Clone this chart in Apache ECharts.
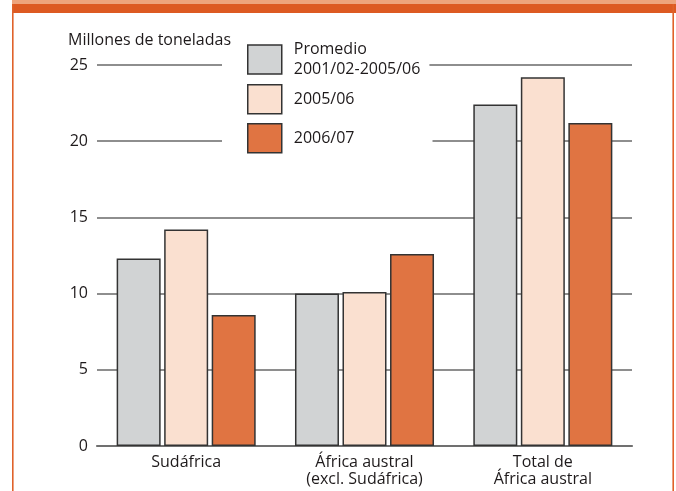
<!DOCTYPE html>
<html>
<head>
<meta charset="utf-8">
<script src="https://cdn.jsdelivr.net/npm/echarts@6/dist/echarts.min.js"></script>
<style>
html,body{margin:0;padding:0;background:#fff;}
#c{width:676px;height:491px;}
</style>
</head>
<body>
<div id="c"></div>
<script>
const categories = ['Sudáfrica', 'África austral\n(excl. Sudáfrica)', 'Total de\nÁfrica austral'];
const seriesNames = ['Promedio\n2001/02-2005/06', '2005/06', '2006/07'];
const promedio = [12.3, 10.0, 22.4];
const s2005 = [14.2, 10.1, 24.2];
const s2006 = [8.6, 12.6, 21.2];
const yTicks = [0, 5, 10, 15, 20, 25];

const colors = ['#d1d3d4', '#fae0d0', '#e07442'];
const font = '"Open Sans", "Noto Sans", sans-serif';
const txt = '#1e1a1b';
const fs = 16;

const chart = echarts.init(document.getElementById('c'), null, {renderer: 'canvas'});

function mkLegend(name, top, padding) {
  return {
    data: [name],
    left: 222,
    top: top,
    orient: 'vertical',
    itemWidth: 34,
    itemHeight: 29,
    padding: padding,
    backgroundColor: '#ffffff',
    selectedMode: false,
    icon: 'rect',
    itemStyle: {borderColor: '#333333', borderWidth: 1.5},
    textStyle: {fontFamily: font, fontSize: fs, color: txt, lineHeight: 20, padding: [0, 0, 0, 7]}
  };
}

const dataArrays = [promedio, s2005, s2006];

chart.setOption({
  animation: false,
  backgroundColor: '#ffffff',
  textStyle: {fontFamily: font},
  title: {
    text: 'Millones de toneladas',
    left: 68, top: 32, padding: 0,
    textStyle: {fontFamily: font, fontSize: fs, fontWeight: 'normal', color: txt}
  },
  graphic: [
    {type: 'rect', shape: {x: 12, y: 0, width: 664, height: 4}, style: {fill: '#eea47c'}, silent: true},
    {type: 'rect', shape: {x: 12, y: 4, width: 664, height: 9}, style: {fill: '#dd5a22'}, silent: true},
    {type: 'rect', shape: {x: 12, y: 4, width: 1.6, height: 487}, style: {fill: '#e0622a'}, silent: true},
    {type: 'rect', shape: {x: 672.4, y: 4, width: 1.6, height: 487}, style: {fill: '#e0622a'}, silent: true}
  ],
  legend: [
    mkLegend(seriesNames[0], 33.5, [6, 9, 4, 25]),
    mkLegend(seriesNames[1], 84, [0, 12, 0, 25]),
    mkLegend(seriesNames[2], 118, [5, 78, 5, 25])
  ],
  grid: {left: 97, right: 44, top: 65, bottom: 45, containLabel: false},
  xAxis: {
    type: 'category',
    data: categories,
    axisTick: {show: false},
    axisLine: {show: true, lineStyle: {color: '#707070', width: 2.2}},
    axisLabel: {fontFamily: font, fontSize: fs, color: txt, lineHeight: 17, margin: 8}
  },
  yAxis: {
    type: 'value',
    min: yTicks[0], max: yTicks[yTicks.length - 1], interval: 5,
    axisLine: {show: false},
    axisTick: {show: false},
    axisLabel: {fontFamily: font, fontSize: fs, color: txt, margin: 9},
    splitLine: {show: true, lineStyle: {color: '#8e8e8e', width: 2}}
  },
  series: seriesNames.map((n, i) => ({
    name: n,
    type: 'bar',
    data: dataArrays[i],
    barWidth: 44,
    barGap: '8%',
    itemStyle: {color: colors[i], borderColor: '#333333', borderWidth: 1.5}
  }))
});
</script>
</body>
</html>
